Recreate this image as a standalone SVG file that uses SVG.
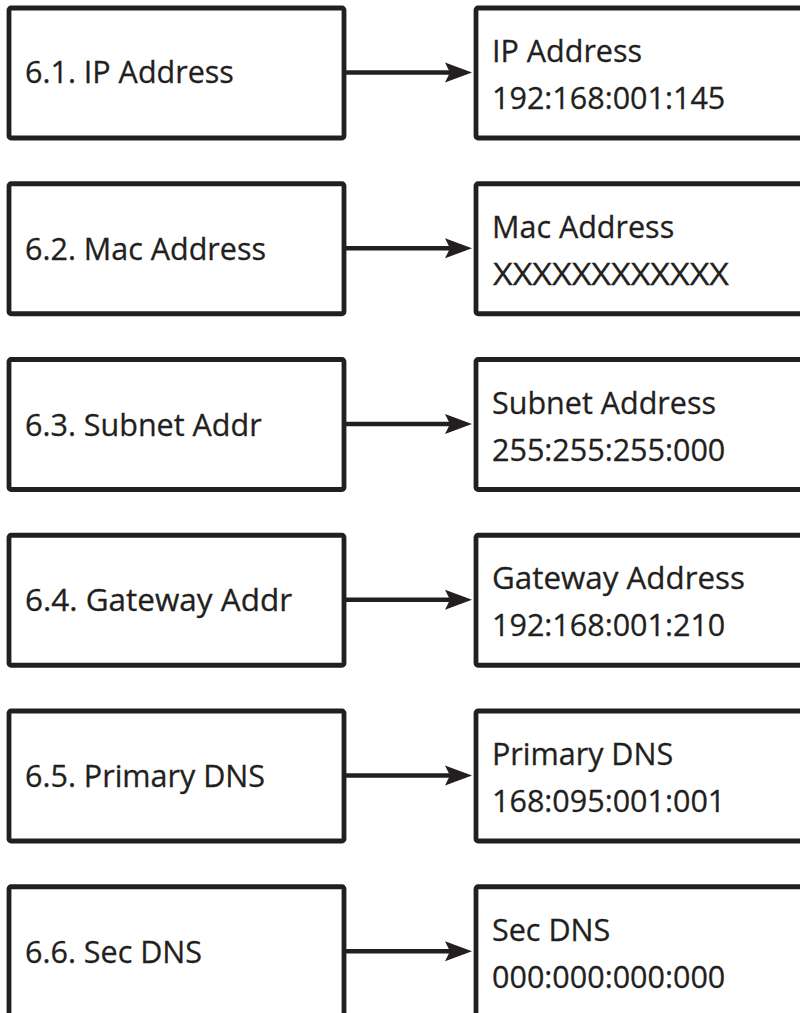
<svg xmlns="http://www.w3.org/2000/svg" width="800" height="1013" viewBox="0 0 800 1013">
<defs>
<style>
.box{fill:#fff;stroke:#231f20;stroke-width:4.8;stroke-linejoin:round}
.lbl{font-family:"Open Sans","Noto Sans",sans-serif;font-size:30.5px;fill:#231f20;stroke:#231f20;stroke-width:0.3}
.conn{stroke:#231f20;stroke-width:4.6;fill:none}
</style>
<marker id="ah" markerUnits="userSpaceOnUse" markerWidth="40" markerHeight="30" refX="0" refY="0" orient="auto" overflow="visible">
<path d="M-10,-10 L17,0 L-10,10 L-5,0 Z" fill="#231f20"/>
</marker>
</defs>
<rect width="800" height="1013" fill="#fff"/>
<g id="n1">
<rect class="box" x="9" y="8" width="335" height="130" rx="2"/>
<text class="lbl" x="25" y="83">6.1. IP Address</text>
</g>
<g id="n1v">
<rect class="box" x="476" y="8" width="400" height="130" rx="2"/>
<text class="lbl" x="492" y="62">IP Address</text>
<text class="lbl" x="492" y="109">192:168:001:145</text>
</g>
<g id="n2">
<rect class="box" x="9" y="183.75" width="335" height="130" rx="2"/>
<text class="lbl" x="25" y="259.75">6.2. Mac Address</text>
</g>
<g id="n2v">
<rect class="box" x="476" y="183.75" width="400" height="130" rx="2"/>
<text class="lbl" x="492" y="237.75">Mac Address</text>
<text class="lbl" x="493" y="284.75" textLength="236" lengthAdjust="spacingAndGlyphs">XXXXXXXXXXXX</text>
</g>
<g id="n3">
<rect class="box" x="9" y="359.5" width="335" height="130" rx="2"/>
<text class="lbl" x="25" y="435.5">6.3. Subnet Addr</text>
</g>
<g id="n3v">
<rect class="box" x="476" y="359.5" width="400" height="130" rx="2"/>
<text class="lbl" x="492" y="413.5">Subnet Address</text>
<text class="lbl" x="492" y="460.5">255:255:255:000</text>
</g>
<g id="n4">
<rect class="box" x="9" y="535.25" width="335" height="130" rx="2"/>
<text class="lbl" x="25" y="611.25" textLength="267" lengthAdjust="spacingAndGlyphs">6.4. Gateway Addr</text>
</g>
<g id="n4v">
<rect class="box" x="476" y="535.25" width="400" height="130" rx="2"/>
<text class="lbl" x="492" y="589.25" textLength="253" lengthAdjust="spacingAndGlyphs">Gateway Address</text>
<text class="lbl" x="492" y="636.25">192:168:001:210</text>
</g>
<g id="n5">
<rect class="box" x="9" y="711" width="335" height="130" rx="2"/>
<text class="lbl" x="25" y="787">6.5. Primary DNS</text>
</g>
<g id="n5v">
<rect class="box" x="476" y="711" width="400" height="130" rx="2"/>
<text class="lbl" x="492" y="765">Primary DNS</text>
<text class="lbl" x="492" y="812">168:095:001:001</text>
</g>
<g id="n6">
<rect class="box" x="9" y="886.75" width="335" height="130" rx="2"/>
<text class="lbl" x="25" y="962.75">6.6. Sec DNS</text>
</g>
<g id="n6v">
<rect class="box" x="476" y="886.75" width="400" height="130" rx="2"/>
<text class="lbl" x="492" y="940.75">Sec DNS</text>
<text class="lbl" x="492" y="987.75">000:000:000:000</text>
</g>
<g id="connectors">
<line class="conn" x1="346" y1="72.5" x2="455" y2="72.5" marker-end="url(#ah)"/>
<line class="conn" x1="346" y1="248.25" x2="455" y2="248.25" marker-end="url(#ah)"/>
<line class="conn" x1="346" y1="424" x2="455" y2="424" marker-end="url(#ah)"/>
<line class="conn" x1="346" y1="599.75" x2="455" y2="599.75" marker-end="url(#ah)"/>
<line class="conn" x1="346" y1="775.5" x2="455" y2="775.5" marker-end="url(#ah)"/>
<line class="conn" x1="346" y1="951.25" x2="455" y2="951.25" marker-end="url(#ah)"/>
</g>
</svg>
